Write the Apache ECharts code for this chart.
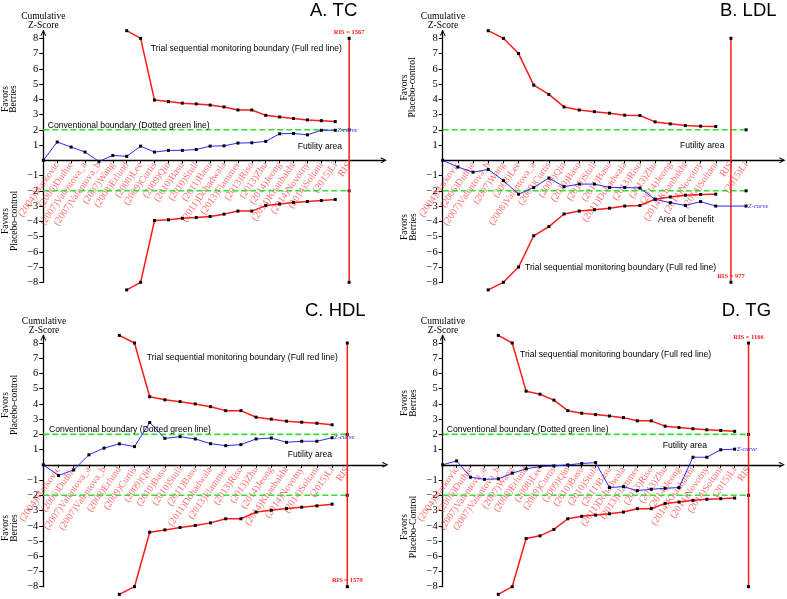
<!DOCTYPE html>
<html><head><meta charset="utf-8">
<script src="https://cdn.jsdelivr.net/npm/echarts@6/dist/echarts.min.js"></script>
<style>html,body{margin:0;padding:0;background:#fff}#c{width:787px;height:599px}</style>
</head><body><div id="c"></div>
<script>
// ---------- data ----------
const catsA = ['(2004)Markovic','(2006)Duthie','(2007)Valentova_a','(2007)Valentova_b','(2007)Wang','(2008)Erlund','(2008)Lee','(2009)Curtis','(2009)Qin','(2010)Basu','(2010)Stull','(2011)Basu','(2011)Dohadwala','(2013)Flammer','(2013)Riso','(2013)Zhu','(2014)Jeong','(2014)Khanbakht','(2014)Novotny','(2014)Soltani','(2015)Li','RIS'];
const zA  = [0,1.2,0.87,0.54,-0.07,0.32,0.26,0.93,0.54,0.65,0.65,0.71,0.93,0.95,1.13,1.15,1.24,1.74,1.76,1.67,1.97,1.97,null];
const upA = [null,null,null,null,null,null,8.5,8,3.95,3.85,3.75,3.7,3.62,3.5,3.3,3.3,2.95,2.84,2.74,2.65,2.6,2.54,null];
const loA = [null,null,null,null,null,null,-8.5,-8,-3.95,-3.9,-3.8,-3.75,-3.68,-3.53,-3.33,-3.33,-2.97,-2.86,-2.77,-2.7,-2.64,-2.57,null];
const risA = 1567;

const catsB = ['(2004)Markovic','(2006)Duthie','(2007)Valentova_b','(2007)Wang','(2008)Lee','(2008)Valentova_a','(2009)Curtis','(2009)Qin','(2010)Basu','(2010)Stull','(2011)Basu','(2011)Dohadwala','(2013)Riso','(2013)Zhu','(2014)Jeong','(2014)Khanbakht','(2014)Novotny','(2014)Soltani','RIS','(2015)Li'];
const zB  = [0,-0.44,-0.78,-0.6,-1.33,-2.22,-1.78,-1.16,-1.73,-1.56,-1.56,-1.78,-1.78,-1.82,-2.56,-2.78,-2.96,-2.71,-3.0,null,-3.0];
const upB = [null,null,null,8.5,8,7.0,4.93,4.32,3.5,3.3,3.19,3.09,2.96,2.94,2.52,2.39,2.28,2.24,2.22,null,null];
const loB = [null,null,null,-8.5,-8,-7.0,-4.95,-4.35,-3.52,-3.33,-3.24,-3.14,-3.0,-2.96,-2.55,-2.4,-2.29,-2.24,-2.22,null,null];
const risB = 977;

const catsC = ['(2004)Markovic','(2006)Duthie','(2007)Valentova_a','(2007)Valentova_b','(2008)Erlund','(2009)Curtis','(2009)Qin','(2010)Basu','(2010)Stull','(2011)Basu','(2011)Dohadwala','(2013)Flammer','(2013)Riso','(2013)Zhu','(2014)Jeong','(2014)Khanbakht','(2014)Novotny','(2014)Soltani','(2015)Li','RIS'];
const zC  = [0,-0.7,-0.33,0.66,1.1,1.38,1.2,2.78,1.74,1.85,1.7,1.39,1.26,1.33,1.7,1.76,1.48,1.55,1.55,1.78,null];
const upC = [null,null,null,null,null,8.5,8,4.47,4.27,4.15,4.0,3.82,3.56,3.56,3.13,3.0,2.87,2.8,2.73,2.63,null];
const loC = [null,null,null,null,null,-8.5,-8,-4.42,-4.27,-4.11,-3.98,-3.81,-3.54,-3.54,-3.1,-2.98,-2.87,-2.78,-2.69,-2.58,null];
const risC = 1579;

const catsD = ['(2004)Markovic','(2006)Duthie','(2007)Valentova_a','(2007)Valentova_b','(2007)Wang','(2008)Erlund','(2008)Lee','(2009)Curtis','(2009)Qin','(2010)Basu','(2010)Stull','(2011)Basu','(2011)Dohadwala','(2013)Flammer','(2013)Riso','(2013)Zhu','(2014)Jeong','(2014)Khanbakht','(2014)Novotny','(2014)Soltani','(2015)Li','RIS'];
const zD  = [0,0.26,-0.81,-0.95,-0.92,-0.55,-0.26,-0.11,-0.07,0.0,0.09,0.15,-1.49,-1.43,-1.69,-1.6,-1.54,-1.49,0.5,0.5,0.99,1.03,null];
const upD = [null,null,null,null,8.5,8,4.84,4.64,4.25,3.56,3.39,3.3,3.21,3.1,2.89,2.89,2.54,2.45,2.37,2.3,2.26,2.2,null];
const loD = [null,null,null,null,-8.5,-8,-4.84,-4.66,-4.24,-3.54,-3.38,-3.3,-3.21,-3.1,-2.88,-2.88,-2.53,-2.44,-2.33,-2.26,-2.22,-2.18,null];
const risD = 1166;

const yTicks = [-8,-7,-6,-5,-4,-3,-2,-1,1,2,3,4,5,6,7,8];
const convBound = [2,-2];
const risSpan = [8,-8];

// ---------- styles ----------
const SERIF = '"Liberation Serif","Times New Roman",serif';
const SANS = '"Liberation Sans",Arial,sans-serif';
const RED = '#ff1a1a', BLUE = '#2a2aff', GREEN = '#33dd33';
const CHEV = 'path://M0,10 L5,0 L10,10 L8.2,10 L5,3.6 L1.8,10 Z';
const YMIN = -8, YMAX = 8.5;

const panels = [
  {cats: catsA, z: zA, up: upA, lo: loA, ris: risA, risLabelAt: 'top', greenEnd: 'ris',
   grid: {left: 43.3, top: 30.7, width: 340.6, height: 251.6}, xmax: 24.5},
  {cats: catsB, z: zB, up: upB, lo: loB, ris: risB, risLabelAt: 'bottom', greenEnd: 'last',
   grid: {left: 442.7, top: 30.7, width: 339.8, height: 251.6}, xmax: 22.4},
  {cats: catsC, z: zC, up: upC, lo: loC, ris: risC, risLabelAt: 'bottom', greenEnd: 'ris',
   grid: {left: 43.3, top: 335.4, width: 342, height: 251.3}, xmax: 22.5},
  {cats: catsD, z: zD, up: upD, lo: loD, ris: risD, risLabelAt: 'top', greenEnd: 'ris',
   grid: {left: 442.7, top: 335.4, width: 339.2, height: 251.3}, xmax: 24.4}
];

const pts = arr => arr.map((v, i) => v == null ? null : [i, v]).filter(Boolean);

const grids = [], xAxes = [], yAxes = [], series = [];
panels.forEach((p, k) => {
  grids.push(Object.assign({outerBoundsMode: 'none', containLabel: false}, p.grid));
  const idx = p.cats.map((c, i) => i + 1);
  const risX = p.cats.indexOf('RIS') + 1;
  const zeroOffset = -p.grid.height * (0 - YMIN) / (YMAX - YMIN);
  xAxes.push({
    type: 'value', gridIndex: k, min: 0, max: p.xmax, position: 'bottom', offset: zeroOffset,
    splitLine: {show: false},
    axisLine: {onZero: false, lineStyle: {color: '#000', width: 1.3}, symbol: ['none', CHEV], symbolSize: [8, 6], symbolOffset: [0, 0]},
    axisTick: {show: true, customValues: idx, length: 3, lineStyle: {color: '#000', width: 1}},
    axisLabel: {show: true, customValues: idx, rotate: 55, margin: 3, hideOverlap: false,
      formatter: v => p.cats[Math.round(v) - 1] || '',
      color: 'rgba(255,20,20,0.62)', fontFamily: SERIF, fontSize: 9.8}
  });
  yAxes.push({
    type: 'value', gridIndex: k, min: YMIN, max: YMAX,
    splitLine: {show: false},
    axisLine: {onZero: false, lineStyle: {color: '#000', width: 1.3}, symbol: ['none', CHEV], symbolSize: [8, 6], symbolOffset: [0, -2]},
    axisTick: {show: true, customValues: yTicks, length: 4, lineStyle: {color: '#000', width: 1}},
    axisLabel: {show: true, customValues: yTicks, margin: 5, hideOverlap: false,
      formatter: v => (v < 0 ? '\u2212' + Math.abs(v) : String(v)),
      color: '#000', fontFamily: SERIF, fontSize: 10.5}
  });
  const dot = {symbol: 'rect', symbolSize: 3, itemStyle: {color: '#000'}};
  const base = {type: 'line', xAxisIndex: k, yAxisIndex: k, clip: false, animation: false, silent: true};
  series.push(Object.assign({}, base, dot, {data: pts(p.up), lineStyle: {color: RED, width: 1.5}, z: 3}));
  series.push(Object.assign({}, base, dot, {data: pts(p.lo), lineStyle: {color: RED, width: 1.5}, z: 3}));
  const gEnd = p.greenEnd === 'ris' ? risX : p.cats.length;
  convBound.forEach(b => {
    series.push(Object.assign({}, base, {
      symbol: 'rect', symbolSize: 3, itemStyle: {color: '#000'},
      data: [{value: [0, b], symbol: 'none'}, {value: [gEnd, b]}],
      lineStyle: {color: GREEN, width: 1.6, type: [6, 3]}, z: 2}));
  });
  const risData = risSpan.map(v => {
    const isLab = (p.risLabelAt === 'top' && v > 0) || (p.risLabelAt === 'bottom' && v < 0);
    const d = {value: [risX, v]};
    if (isLab) d.label = {show: true, position: 'top', distance: 1, formatter: 'RIS = ' + p.ris,
      color: RED, fontFamily: SERIF, fontSize: 6.5, fontWeight: 'bold'};
    return d;
  });
  series.push(Object.assign({}, base, dot, {data: risData, lineStyle: {color: RED, width: 1.5}, z: 4}));
  series.push(Object.assign({}, base, dot, {data: pts(p.z), lineStyle: {color: BLUE, width: 1}, z: 5,
    endLabel: {show: true, formatter: 'Z-curve', color: BLUE, fontFamily: SERIF, fontSize: 6.5, fontStyle: 'italic', distance: 2}}));
});

// ---------- annotations ----------
function txt(x, y, text, font, opts) {
  return Object.assign({type: 'text', x: x, y: y, silent: true, z: 10,
    style: Object.assign({text: text, font: font, fill: '#000', align: 'left', verticalAlign: 'middle'}, (opts && opts.style) || {})},
    opts && opts.rotation != null ? {rotation: opts.rotation} : {});
}
const ann = '8.6px ' + SANS, ttl = '18.5px ' + SANS, srf = '9.5px ' + SERIF;
const cum = {style: {align: 'center', lineHeight: 8.8}};
const fav = {rotation: Math.PI / 2, style: {align: 'center', lineHeight: 8.5}};
const graphic = [
  txt(310, 11, 'A. TC', ttl), txt(43.3, 21, 'Cumulative\nZ-Score', srf, cum),
  txt(150.7, 49, 'Trial sequential monitoring boundary (Full red line)', ann),
  txt(47.7, 126, 'Conventional boundary (Dotted green line)', ann),
  txt(297.7, 146.7, 'Futility area', ann),
  txt(9.5, 99, 'Favors\nBerries', srf, fav), txt(10, 221, 'Favors\nPlacebo-control', srf, fav),
  txt(720, 11, 'B. LDL', ttl), txt(443, 21, 'Cumulative\nZ-Score', srf, cum),
  txt(680, 146, 'Futility area', ann),
  txt(658, 219.3, 'Area of benefit', ann),
  txt(525, 268, 'Trial sequential monitoring boundary (Full red line)', ann),
  txt(408.5, 87.5, 'Favors\nPlacebo-control', srf, fav), txt(409, 227, 'Favors\nBerries', srf, fav),
  txt(305, 311, 'C. HDL', ttl), txt(44, 326, 'Cumulative\nZ-Score', srf, cum),
  txt(146.7, 357.3, 'Trial sequential monitoring boundary (Full red line)', ann),
  txt(49, 429.3, 'Conventional boundary (Dotted green line)', ann),
  txt(287.7, 454.3, 'Futility area', ann),
  txt(10, 405, 'Favors\nPlacebo-control', srf, fav), txt(10, 528, 'Favors\nBerries', srf, fav),
  txt(721.7, 311, 'D. TG', ttl), txt(443, 326, 'Cumulative\nZ-Score', srf, cum),
  txt(520, 355, 'Trial sequential monitoring boundary (Full red line)', ann),
  txt(446.7, 430, 'Conventional boundary (Dotted green line)', ann),
  txt(662.7, 446, 'Futility area', ann),
  txt(409, 403, 'Favors\nBerries', srf, fav), txt(409, 527, 'Favors\nPlacebo-Control', srf, fav)
];

const chart = echarts.init(document.getElementById('c'), null, {renderer: 'canvas'});
chart.setOption({
  animation: false,
  backgroundColor: '#fff',
  grid: grids, xAxis: xAxes, yAxis: yAxes, series: series, graphic: graphic
});
</script></body></html>
